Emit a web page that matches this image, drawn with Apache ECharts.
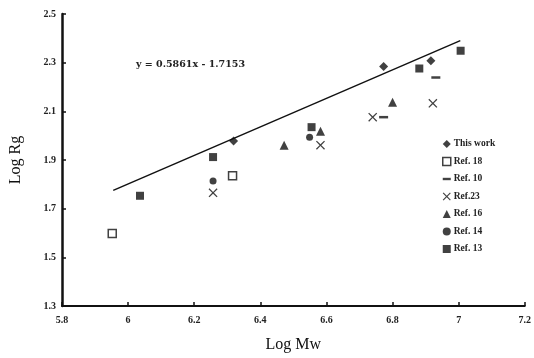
<!DOCTYPE html>
<html>
<head>
<meta charset="utf-8">
<script src="https://cdn.jsdelivr.net/npm/echarts@6/dist/echarts.min.js"></script>
<style>
  html, body { margin: 0; padding: 0; background: #fff; }
  #chart { width: 534px; height: 358px; }
</style>
</head>
<body>
<div id="chart"></div>
<script>
// values: [Log Mw, Log Rg]
const thisWork = [[6.319, 1.978], [6.773, 2.284], [6.916, 2.308]];
const ref18 = [[5.952, 1.598], [6.316, 1.835]];
const ref10 = [[6.773, 2.076], [6.931, 2.239]];
const ref23 = [[6.257, 1.765], [6.582, 1.961], [6.740, 2.076], [6.922, 2.133]];
const ref16 = [[6.472, 1.961], [6.582, 2.018], [6.800, 2.137]];
const ref14 = [[6.257, 1.814], [6.549, 1.994]];
const ref13 = [[6.036, 1.753], [6.257, 1.912], [6.555, 2.035], [6.881, 2.276], [7.006, 2.349]];

// fit line y = 0.5861x - 1.7153
const fitSlope = 0.5861;
const fitIntercept = -1.7153;
const fitRange = [5.955, 7.005];

const fitData = fitRange.map((x) => [x, fitSlope * x + fitIntercept]);

const serif = '"Liberation Serif", "DejaVu Serif", serif';
const dashPath = 'path://M0,0H10V3H0Z';
const crossPath = 'path://M0,1L1,0L5,4L9,0L10,1L6,5L10,9L9,10L5,6L1,10L0,9L4,5Z';

const chart = echarts.init(document.getElementById('chart'));

function scatter(name, data, symbol, size, extra) {
  return Object.assign({
    name,
    type: 'scatter',
    data,
    symbol,
    symbolSize: size,
    itemStyle: { color: '#111' },
    z: 3,
  }, extra || {});
}

chart.setOption({
  animation: false,
  backgroundColor: '#fff',
  grid: { left: 57, right: 7, top: 14, bottom: 51 },
  xAxis: {
    type: 'value',
    min: 5.8,
    max: 7.2,
    interval: 0.2,
    name: 'Log Mw',
    nameLocation: 'middle',
    nameGap: 31,
    nameTextStyle: { fontFamily: serif, fontSize: 16, color: '#111' },
    axisLine: { show: true, lineStyle: { color: '#111', width: 2 } },
    axisTick: { show: true, inside: true, length: 4, lineStyle: { color: '#111', width: 1.5 } },
    axisLabel: {
      fontFamily: serif, fontSize: 10, fontWeight: 'bold', color: '#222', margin: 9,
      formatter: (v) => +v.toFixed(1) + '',
    },
    splitLine: { show: false },
  },
  yAxis: {
    type: 'value',
    min: 1.3,
    max: 2.5,
    interval: 0.2,
    name: 'Log Rg',
    nameLocation: 'middle',
    nameGap: 38,
    nameTextStyle: { fontFamily: serif, fontSize: 16, color: '#111' },
    axisLine: { show: true, lineStyle: { color: '#111', width: 2.5 } },
    axisTick: { show: true, inside: true, length: 4, lineStyle: { color: '#111', width: 1.5 } },
    axisLabel: {
      fontFamily: serif, fontSize: 10, fontWeight: 'bold', color: '#222', margin: 6,
      formatter: (v) => v.toFixed(1),
    },
    splitLine: { show: false },
  },
  legend: {
    orient: 'vertical',
    left: 437,
    top: 134,
    itemWidth: 8,
    itemHeight: 8,
    itemGap: 7.5,
    textStyle: { fontFamily: serif, fontSize: 9.5, fontWeight: 'bold', color: '#222', padding: [0, 0, 0, -2] },
    data: [
      { name: 'This work', icon: 'diamond' },
      { name: 'Ref. 18', icon: 'rect', itemStyle: { color: '#fff', borderColor: '#111', borderWidth: 1.5 } },
      { name: 'Ref. 10', icon: dashPath },
      { name: 'Ref.23', icon: crossPath },
      { name: 'Ref. 16', icon: 'triangle' },
      { name: 'Ref. 14', icon: 'circle' },
      { name: 'Ref. 13', icon: 'rect' },
    ],
  },
  graphic: [{
    type: 'text',
    left: 136,
    top: 60,
    style: {
      text: 'y = 0.5861x - 1.7153',
      font: 'bold 9.5px "DejaVu Serif", serif',
      fill: '#222',
    },
  }],
  series: [
    {
      name: 'fit',
      type: 'line',
      data: fitData,
      symbol: 'none',
      lineStyle: { color: '#111', width: 1.5 },
      z: 2,
      silent: true,
    },
    scatter('This work', thisWork, 'diamond', 9),
    scatter('Ref. 18', ref18, 'rect', 8, { itemStyle: { color: '#fff', borderColor: '#111', borderWidth: 1.5 } }),
    scatter('Ref. 10', ref10, dashPath, [9, 2.5]),
    scatter('Ref.23', ref23, crossPath, 9),
    scatter('Ref. 16', ref16, 'triangle', 9),
    scatter('Ref. 14', ref14, 'circle', 7),
    scatter('Ref. 13', ref13, 'rect', 8),
  ],
});
</script>
</body>
</html>
